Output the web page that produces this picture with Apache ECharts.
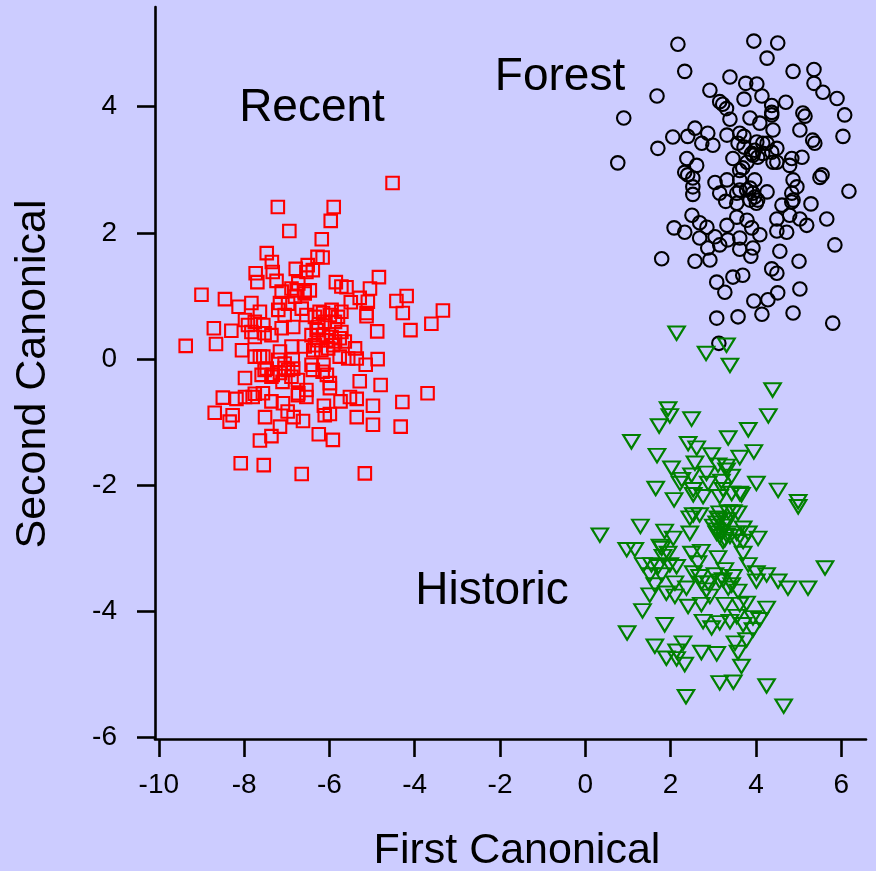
<!DOCTYPE html>
<html><head><meta charset="utf-8">
<script src="https://cdn.jsdelivr.net/npm/echarts@6/dist/echarts.min.js"></script>
<style>html,body{margin:0;padding:0;background:#ccccff}#c{width:876px;height:871px}</style>
</head><body><div id="c"></div>
<script>
const xTicks = [-10, -8, -6, -4, -2, 0, 2, 4, 6];
const yTicks = [-6, -4, -2, 0, 2, 4];
const xRange = [-10.09, 6.58];
const yRange = [-6.02, 5.58];
const groupNames = ['Recent', 'Forest', 'Historic'];
const xTitle = 'First Canonical';
const yTitle = 'Second Canonical';

const recent = [[-4.52,2.79],[-7.21,2.41],[-5.90,2.41],[-5.97,2.19],[-6.94,2.03],[-6.18,1.90],[-7.47,1.68],[-6.16,1.61],[-6.28,1.62],[-7.35,1.54],[-6.51,1.49],[-6.39,1.41],[-7.73,1.36],[-7.33,1.38],[-6.79,1.43],[-6.54,1.38],[-4.84,1.30],[-9.00,1.02],[-5.85,1.22],[-5.72,1.15],[-5.60,1.14],[-5.29,0.97],[-5.10,0.91],[-4.43,0.92],[-4.19,1.00],[-3.34,0.77],[-8.13,0.83],[-7.83,0.89],[-7.63,0.75],[-7.16,0.89],[-4.28,0.73],[-5.13,0.73],[-8.71,0.49],[-9.37,0.21],[-8.66,0.24],[-8.05,0.14],[-5.13,0.68],[-4.88,0.44],[-4.10,0.46],[-3.61,0.56],[-7.63,0.04],[-7.16,0.12],[-6.89,0.20],[-6.86,-0.01],[-7.98,-0.30],[-7.52,-0.17],[-7.33,-0.25],[-7.05,-0.14],[-7.10,-0.36],[-6.74,-0.33],[-6.39,-0.17],[-6.16,-0.20],[-6.06,-0.25],[-5.99,-0.46],[-5.29,-0.35],[-5.15,-0.09],[-4.87,0.00],[-4.80,-0.41],[-3.70,-0.54],[-4.29,-0.68],[-8.50,-0.61],[-8.18,-0.63],[-7.98,-0.60],[-7.80,-0.60],[-7.56,-0.54],[-7.36,-0.67],[-7.09,-0.70],[-6.74,-0.57],[-6.54,-0.60],[-6.13,-0.74],[-5.74,-0.67],[-5.52,-0.60],[-5.36,-0.63],[-4.98,-0.74],[-8.69,-0.85],[-8.27,-0.89],[-8.34,-0.99],[-7.51,-0.92],[-6.98,-0.83],[-6.84,-0.92],[-6.62,-0.98],[-6.11,-0.89],[-5.99,-0.87],[-5.36,-0.92],[-4.98,-1.04],[-4.33,-1.07],[-7.16,-1.07],[-7.36,-1.22],[-7.63,-1.29],[-6.25,-1.19],[-5.92,-1.28],[-8.08,-1.65],[-7.54,-1.68],[-6.65,-1.82],[-5.17,-1.81],
[-7.69,1.22],[-7.24,1.24],[-6.77,1.09],[-6.58,1.07],[-7.12,1.07],[-7.91,0.54],[-7.83,0.43],[-7.55,0.54],[-7.36,0.38],[-7.20,0.78],[-6.97,0.88],[-7.05,0.70],[-6.65,0.80],[-6.54,0.70],[-6.34,0.67],[-6.15,0.73],[-5.99,0.70],[-5.80,0.67],[-6.26,0.51],[-6.11,0.59],[-5.87,0.59],[-5.72,0.43],[-6.42,0.38],[-6.26,0.30],[-6.07,0.30],[-5.87,0.28],[-5.64,0.28],[-5.40,0.17],[-6.85,0.51],[-7.12,0.49],[-7.55,0.04],[-6.58,0.20],[-6.38,0.14],[-6.19,0.14],[-6.03,0.17],[-5.76,0.04],[-5.56,0.01],[-5.36,0.01],[-7.05,-0.07],[-6.97,-0.17],[-6.85,-0.15],[-5.99,-0.38],[-7.59,-0.25],[-7.36,-0.28],[-6.54,-0.49],[-6.73,-0.54],[-7.75,-0.55],[-8.45,0.95],[-8.30,0.45],[-5.50,0.90],[-5.05,1.12],
[-6.89,1.12],[-6.73,1.20],[-6.58,1.04],[-6.81,0.99],[-6.46,1.09],[-6.23,0.75],[-5.95,0.78],[-5.72,0.75],[-6.30,0.46],[-6.15,0.38],[-5.95,0.35],[-5.76,0.33],[-6.34,0.22],[-5.91,0.22],[-7.20,-0.01],[-7.16,-0.22],[-6.89,-0.28],[-6.42,-0.09],[-6.14,-0.09],[-7.98,0.62],[-7.75,0.59],[-7.52,0.41],[-7.75,0.35],[-7.75,0.04],[-7.47,-0.15]];

const forest = [[2.17,4.99],[3.95,5.04],[4.51,5.01],[4.26,4.77],[2.33,4.56],[4.87,4.56],[5.36,4.59],[3.39,4.47],[3.76,4.37],[4.02,4.36],[5.36,4.37],[5.57,4.23],[5.90,4.13],[1.68,4.17],[2.92,4.26],[3.72,4.12],[4.14,4.17],[4.70,4.07],[0.90,3.82],[3.22,4.04],[4.37,4.02],[6.08,3.87],[5.15,3.85],[3.39,3.80],[3.86,3.82],[4.37,3.87],[0.76,3.11],[2.05,3.52],[2.40,3.53],[2.57,3.66],[2.87,3.58],[2.99,3.39],[2.73,3.42],[3.32,3.55],[3.58,3.42],[3.72,3.53],[4.09,3.74],[4.40,3.63],[5.03,3.63],[5.33,3.47],[6.04,3.53],[1.70,3.34],[2.38,3.18],[2.61,3.07],[2.33,2.96],[3.46,3.18],[3.90,3.26],[4.04,3.20],[4.40,3.12],[4.84,3.18],[5.08,3.20],[4.79,3.07],[3.62,2.99],[5.55,2.92],
[4.37,3.91],[5.10,3.90],[3.62,3.58],[5.38,3.42],[3.72,3.36],[4.02,3.44],[4.26,3.42],[4.49,3.34],[3.93,3.23],[4.16,3.26],[3.79,3.12],[4.49,3.12],[2.52,2.87],[3.04,2.80],[3.69,3.03],[3.97,2.84],[2.52,2.73],[3.62,2.68],[3.86,2.71],[4.26,2.65],[4.87,2.84],[4.96,2.73],[4.84,2.63],[4.84,2.49],[4.04,2.52],
[5.50,2.88],[6.18,2.66],[2.52,2.61],[2.40,2.92],[3.32,2.84],[3.15,2.63],[3.55,2.63],[3.97,2.57],[3.29,2.50],[3.55,2.47],[4.61,2.44],[4.87,2.52],[5.29,2.46],[5.66,2.22],[2.50,2.28],[2.08,2.08],[2.33,2.01],[2.68,2.16],[2.85,2.09],[3.32,2.12],[3.55,2.25],[3.79,2.20],[3.90,2.08],[4.09,1.97],[4.49,2.22],[4.79,2.28],[5.03,2.22],[5.19,2.12],[4.49,2.03],[4.72,2.01],[2.68,1.92],[3.04,1.94],[3.34,1.89],[3.62,1.92],[2.87,1.76],[3.15,1.81],[3.62,1.74],[3.93,1.76],[5.85,1.81],[4.56,1.71],[1.79,1.59],[2.57,1.55],[2.92,1.57],[3.88,1.63],[5.01,1.55],[4.37,1.43],[4.49,1.36],[3.08,1.22],[3.46,1.30],[3.69,1.33],[3.27,1.06],[4.51,1.05],[5.03,1.11],[3.95,0.92],[4.28,0.94],[3.08,0.65],[3.58,0.67],[4.14,0.71],[4.87,0.73],[5.80,0.57],[3.13,0.25],
[3.78,2.68],[3.93,2.63],[4.01,2.47],[3.86,2.52],[3.62,2.84],[4.16,3.42],[3.97,3.31],[4.37,3.28],[3.15,4.08],[3.31,3.97]];

const historic = [[2.14,0.41],[3.31,0.22],[2.83,0.09],[3.39,-0.10],[4.39,-0.49],[4.29,-0.90],[1.94,-0.79],[1.98,-0.90],[1.73,-1.06],[2.49,-0.95],[3.82,-1.12],[3.35,-1.25],[1.08,-1.31],[2.41,-1.34],[2.61,-1.41],[1.68,-1.53],[2.96,-1.52],[3.62,-1.56],[3.95,-1.47],[2.02,-1.73],[2.57,-1.65],[3.11,-1.68],[3.31,-1.70],[2.84,-1.81],[3.43,-1.86],[2.49,-1.84],[2.26,-1.91],[1.65,-2.05],[2.22,-1.97],[2.88,-1.97],[3.19,-1.94],[4.01,-1.97],[4.52,-2.08],[4.99,-2.26],[4.99,-2.34],[2.08,-2.23],[2.53,-2.07],[2.76,-2.18],[3.23,-2.07],[3.62,-2.13],[3.15,-2.18],
[0.34,-2.79],[1.29,-2.65],[1.86,-2.73],[2.06,-2.84],[2.45,-2.76],[2.53,-2.47],[2.68,-2.47],[2.45,-2.52],[3.15,-2.44],[3.35,-2.42],[3.58,-2.44],[3.08,-2.71],[3.15,-2.81],[3.31,-2.79],[3.70,-2.68],[3.82,-2.76],[4.05,-2.84],[3.55,-2.89],[0.97,-3.02],[1.16,-3.02],[1.79,-3.00],[1.94,-3.08],[2.49,-3.08],[2.72,-3.05],[3.11,-3.15],[3.70,-3.08],[3.82,-3.26],[1.36,-3.26],[1.71,-3.29],[1.98,-3.26],[2.14,-3.29],[1.51,-3.42],[1.79,-3.42],[2.64,-3.23],[2.53,-3.39],[3.04,-3.42],[3.27,-3.34],[3.47,-3.45],[4.01,-3.39],[4.25,-3.42],[4.52,-3.52],[4.75,-3.63],[5.22,-3.63],[5.62,-3.31],[1.63,-3.58],[2.10,-3.55],[2.37,-3.63],[2.72,-3.55],[2.84,-3.66],[3.15,-3.52],[3.43,-3.58],[3.58,-3.68],[4.01,-3.52],[1.51,-3.74],[1.90,-3.71],[2.10,-3.76],[2.92,-3.76],[2.41,-3.92],[2.72,-3.89],[3.27,-3.89],[3.62,-3.89],[3.78,-3.87],[4.25,-3.95],[1.34,-3.99],[2.76,-4.16],[2.96,-4.26],[3.15,-4.18],[3.55,-4.08],[3.70,-4.21],[3.93,-4.10],[4.09,-4.13],[3.93,-4.29],[1.86,-4.21],[0.98,-4.34],[1.63,-4.55],[2.29,-4.50],[2.14,-4.63],[1.90,-4.74],[2.33,-4.84],[2.72,-4.65],[3.08,-4.67],[3.51,-4.50],[3.78,-4.45],[3.58,-4.65],[3.66,-4.87],[3.15,-5.13],[3.47,-5.12],[4.25,-5.18],[2.36,-5.35],[4.65,-5.50],
[3.31,-1.76],[2.53,-2.15],[3.43,-2.13],[3.66,-2.15],[3.47,-2.42],[3.11,-2.52],[3.27,-2.86],[3.55,-2.76],[3.70,-2.89],[3.39,-4.16],[2.14,-4.75],[1.55,-3.26],
[3.15,-2.55],[3.27,-2.65],[3.08,-2.76],[3.23,-2.89],[3.39,-2.81],[3.00,-2.65],[3.08,-2.60],[3.19,-2.73],[3.31,-2.55],[2.68,-3.45],[2.88,-3.55],[3.23,-3.50],[3.35,-3.63],[1.75,-2.97],[1.82,-3.13]];

const font = "'Liberation Sans', Arial, sans-serif";
const chart = echarts.init(document.getElementById('c'), null, {renderer: 'canvas'});

function hollow(color) {
  return {color: 'rgba(0,0,0,0)', borderColor: color, borderWidth: 2.1, opacity: 1};
}

chart.setOption({
  backgroundColor: '#ccccff',
  animation: false,
  grid: {left: 155, right: 10, top: 7, bottom: 132, containLabel: false},
  xAxis: {
    type: 'value', min: xRange[0], max: xRange[1],
    axisLine: {show: true, onZero: false, lineStyle: {color: '#000', width: 2.6}},
    axisTick: {show: true, customValues: xTicks, length: 18, inside: false, lineStyle: {color: '#000', width: 2.6}},
    axisLabel: {show: true, customValues: xTicks, margin: 32, fontSize: 28, color: '#000', fontFamily: font,
      showMinLabel: true, showMaxLabel: true},
    splitLine: {show: false}
  },
  yAxis: {
    type: 'value', min: yRange[0], max: yRange[1],
    axisLine: {show: true, onZero: false, lineStyle: {color: '#000', width: 2.6}},
    axisTick: {show: true, customValues: yTicks, length: 18, inside: false, lineStyle: {color: '#000', width: 2.6}},
    axisLabel: {show: true, customValues: yTicks, margin: 38, fontSize: 28, color: '#000', fontFamily: font,
      showMinLabel: true, showMaxLabel: true},
    splitLine: {show: false}
  },
  graphic: [
    {type: 'text', x: 312, y: 108, silent: true, style: {text: groupNames[0], font: '46px ' + font, fill: '#000', align: 'center', verticalAlign: 'middle'}},
    {type: 'text', x: 560, y: 77, silent: true, style: {text: groupNames[1], font: '46px ' + font, fill: '#000', align: 'center', verticalAlign: 'middle'}},
    {type: 'text', x: 492, y: 591, silent: true, style: {text: groupNames[2], font: '46px ' + font, fill: '#000', align: 'center', verticalAlign: 'middle'}},
    {type: 'text', x: 517, y: 851, silent: true, style: {text: xTitle, font: '43px ' + font, fill: '#000', align: 'center', verticalAlign: 'middle'}},
    {type: 'text', x: 33, y: 374, rotation: Math.PI / 2, silent: true, style: {text: yTitle, font: '43px ' + font, fill: '#000', align: 'center', verticalAlign: 'middle'}}
  ],
  series: [
    {name: groupNames[0], type: 'scatter', data: recent, symbol: 'rect', symbolSize: 12.5, itemStyle: hollow('#ff0000'), silent: true},
    {name: groupNames[1], type: 'scatter', data: forest, symbol: 'circle', symbolSize: 13.5, itemStyle: hollow('#000000'), silent: true},
    {name: groupNames[2], type: 'scatter', data: historic, symbol: 'triangle', symbolRotate: 180, symbolSize: [16.5, 13.5], itemStyle: hollow('#008000'), silent: true}
  ]
});
</script></body></html>
